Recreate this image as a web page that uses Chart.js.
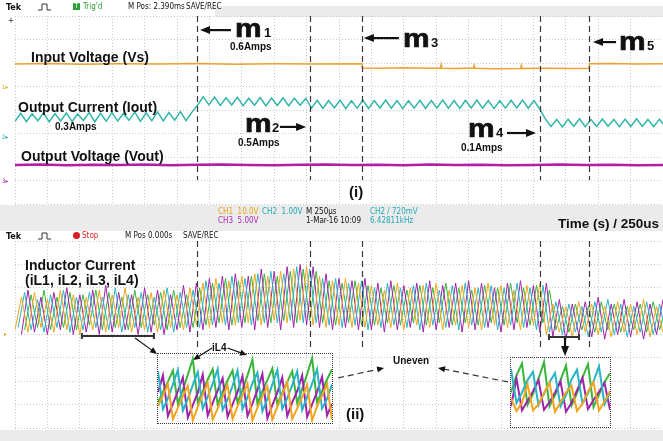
<!DOCTYPE html>
<html>
<head>
<meta charset="utf-8">
<script src="https://cdn.jsdelivr.net/npm/chart.js@4.4.1/dist/chart.umd.min.js"></script>
<style>
body{margin:0;background:#fff}
#page{position:relative;width:663px;height:441px;overflow:hidden;background:#fff;font-family:"Liberation Sans",Arial,sans-serif;color:#111}
.abs{position:absolute;line-height:1;white-space:nowrap}
.b{font-weight:bold}
.scope{font-family:"Liberation Sans Narrow","DejaVu Sans Condensed","Liberation Sans",sans-serif;font-size:8px}
canvas{position:absolute}
.band{position:absolute;background:#ebebeb}
.inset{position:absolute;border:1px dotted #333;box-sizing:border-box}
.m{font-size:26px;font-weight:bold;transform:scaleX(1.15);transform-origin:left top;-webkit-text-stroke:0.7px #111}
.sub{font-size:13px;font-weight:bold}
.amps{font-size:10px;font-weight:bold}
.lbl{font-size:14px;font-weight:bold}
</style>
</head>
<body>
<div id="page">
  <div class="band" style="left:215px;top:6px;width:448px;height:11px"></div>
  <div class="band" style="left:0;top:205px;width:663px;height:26px"></div>
  <div class="band" style="left:0;top:430px;width:663px;height:11px"></div>

  <canvas id="topChart" width="663" height="210" style="left:0;top:0"></canvas>
  <canvas id="botChart" width="663" height="200" style="left:0;top:231px"></canvas>

  <div class="inset" style="left:157px;top:353px;width:176px;height:71px">
    <canvas id="inset1" width="174" height="69" style="left:0;top:0"></canvas>
  </div>
  <div class="inset" style="left:510px;top:357px;width:101px;height:71px">
    <canvas id="inset2" width="99" height="69" style="left:0;top:0"></canvas>
  </div>

  <!-- scope status lines -->
  <div class="abs scope b" style="left:6px;top:3px;font-size:9px">Tek</div>
  <svg class="abs" style="left:38px;top:3px" width="13" height="8"><polyline points="0,7 4,7 4,1 9,1 9,7 13,7" fill="none" stroke="#333" stroke-width="1"/></svg>
  <div class="abs scope" style="left:73px;top:3px;width:7px;height:7px;background:#2e9e3a;color:#fff;font-size:7px;text-align:center">T</div>
  <div class="abs scope" style="left:83px;top:3px;color:#2e9e3a">Trig'd</div>
  <div class="abs scope" style="left:128px;top:3px">M Pos: 2.390ms</div>
  <div class="abs scope" style="left:186px;top:3px">SAVE/REC</div>

  <div class="abs scope" style="left:218px;top:208px;color:#e8a317">CH1&nbsp; 10.0V</div>
  <div class="abs scope" style="left:218px;top:217px;color:#b02ab0">CH3&nbsp; 5.00V</div>
  <div class="abs scope" style="left:262px;top:208px;color:#22aab5">CH2&nbsp; 1.00V</div>
  <div class="abs scope" style="left:306px;top:208px">M 250µs</div>
  <div class="abs scope" style="left:306px;top:217px">1-Mar-16 10:09</div>
  <div class="abs scope" style="left:370px;top:208px;color:#22aab5">CH2 / 720mV</div>
  <div class="abs scope" style="left:370px;top:217px;color:#22aab5">6.42811kHz</div>
  <div class="abs b" style="left:558px;top:216.6px;font-size:13.5px">Time (s) / 250us</div>

  <div class="abs scope b" style="left:6px;top:231.5px;font-size:9px">Tek</div>
  <svg class="abs" style="left:38px;top:232px" width="13" height="8"><polyline points="0,7 4,7 4,1 9,1 9,7 13,7" fill="none" stroke="#333" stroke-width="1"/></svg>
  <div class="abs" style="left:73px;top:232px;width:7px;height:7px;border-radius:50%;background:#d42020"></div>
  <div class="abs scope" style="left:82px;top:232px;color:#d42020">Stop</div>
  <div class="abs scope" style="left:125px;top:232px">M Pos 0.000s</div>
  <div class="abs scope" style="left:183px;top:232px">SAVE/REC</div>

  <!-- channel markers -->
  <div class="abs scope" style="left:8px;top:17px;font-size:8px;color:#333">+</div>
  <div class="abs scope" style="left:2px;top:84px;font-size:6px;color:#e8a317">1▸</div>
  <div class="abs scope" style="left:2px;top:134px;font-size:6px;color:#22aab5">2▸</div>
  <div class="abs scope" style="left:2px;top:178px;font-size:6px;color:#b02ab0">3▸</div>
  <div class="abs scope" style="left:4px;top:331px;font-size:6px;color:#e8a317">▸</div>

  <!-- panel (i) labels -->
  <div class="abs lbl" style="left:31px;top:50px">Input Voltage (Vs)</div>
  <div class="abs lbl" style="left:18px;top:100px">Output Current (Iout)</div>
  <div class="abs amps" style="left:55px;top:121.5px">0.3Amps</div>
  <div class="abs lbl" style="left:21px;top:149px">Output Voltage (Vout)</div>
  <div class="abs b" style="left:349px;top:184px;font-size:15px">(i)</div>

  <div class="abs m" style="left:235px;top:15px">m</div><div class="abs sub" style="left:264px;top:26px">1</div>
  <div class="abs amps" style="left:230px;top:41.5px">0.6Amps</div>
  <div class="abs m" style="left:245px;top:110px">m</div><div class="abs sub" style="left:272px;top:121px">2</div>
  <div class="abs amps" style="left:238px;top:137.5px">0.5Amps</div>
  <div class="abs m" style="left:403px;top:25px">m</div><div class="abs sub" style="left:431px;top:36px">3</div>
  <div class="abs m" style="left:468px;top:115px">m</div><div class="abs sub" style="left:496px;top:126px">4</div>
  <div class="abs amps" style="left:461px;top:142.5px">0.1Amps</div>
  <div class="abs m" style="left:619px;top:28px">m</div><div class="abs sub" style="left:647px;top:39px">5</div>

  <!-- panel (ii) labels -->
  <div class="abs lbl" style="left:25px;top:258px">Inductor Current</div>
  <div class="abs lbl" style="left:25px;top:273px">(iL1, iL2, iL3, iL4)</div>
  <div class="abs amps" style="left:212px;top:342.5px">iL4</div>
  <div class="abs amps" style="left:393px;top:355.5px">Uneven</div>
  <div class="abs b" style="left:346px;top:406px;font-size:15px">(ii)</div>
</div>

<script>
"use strict";

// time base: 10 div x 250us, vertical: 8 divisions
const SPAN_US = 2500;
const markerUs = [702, 1138, 1339, 2025, 2215];

// panel (i): input voltage (Vs)
const vsTimeUs = [0, 120, 260, 400, 560, 700, 850, 1000, 1150, 1338, 1341, 1420, 1500, 1600,
  1642, 1644, 1646, 1700, 1769, 1771, 1773, 1850, 1951, 1953, 1955, 2050, 2150, 2214, 2217, 2300, 2400, 2500];
const vsLevel = [5.96, 5.98, 5.95, 5.97, 5.96, 5.98, 5.95, 5.97, 5.96, 5.97, 5.79, 5.78, 5.80, 5.78,
  5.78, 5.92, 5.78, 5.77, 5.79, 5.89, 5.78, 5.76, 5.77, 5.88, 5.77, 5.78, 5.77, 5.78, 5.97, 5.98, 5.96, 5.97];

// panel (i): output current (Iout), sampled every 22us (trough / peak)
const ioutStepUs = 22;
const ioutLevel = [
  3.52, 3.86, 3.50, 3.84, 3.54, 3.88, 3.49, 3.85, 3.53, 3.87, 3.51, 3.83, 3.55, 3.89, 3.50, 3.86,
  3.52, 3.90, 3.53, 3.85, 3.56, 3.91, 3.52, 3.88, 3.55, 3.92, 3.54, 3.89, 3.57, 3.93, 3.55, 3.90,
  4.20, 4.56, 4.22, 4.55, 4.19, 4.52, 4.21, 4.54, 4.18, 4.50, 4.20, 4.53, 4.17, 4.51, 4.19, 4.52,
  4.18, 4.50, 4.20, 4.49,
  4.08, 4.41, 4.07, 4.40, 4.09, 4.42, 4.06, 4.39, 4.08, 4.41, 4.07, 4.40, 4.09, 4.42, 4.08, 4.40,
  4.06, 4.39, 4.08, 4.41, 4.07, 4.40, 4.09, 4.42, 4.08, 4.40, 4.07, 4.41, 4.09, 4.42, 4.08, 4.40,
  4.06, 4.39, 4.08, 4.41, 4.09, 4.42, 4.08, 4.40, 4.05,
  3.62, 3.30, 3.60, 3.28, 3.61, 3.31, 3.63, 3.29, 3.60, 3.30, 3.62, 3.31, 3.60, 3.29, 3.61, 3.30,
  3.63, 3.31, 3.60, 3.29, 3.61, 3.30];

// panel (i): output voltage (Vout), every 100us
const voutStepUs = 100;
const voutLevel = [1.66, 1.68, 1.65, 1.67, 1.66, 1.68, 1.65, 1.67, 1.68, 1.66, 1.65, 1.67, 1.68,
  1.66, 1.67, 1.65, 1.68, 1.66, 1.67, 1.65, 1.66, 1.68, 1.66, 1.67, 1.65, 1.66];

// panel (ii): inductor currents, half-period samples (25us), phase shifted per leg
const iLStepUs = 25;
const iLPhaseUs = [0, 12, 25, 37];
const iL1 = [
  4.2, 5.6, 4.1, 5.8, 4.3, 5.5, 4.1, 5.9, 4.2, 5.7, 4.0, 5.6, 4.2, 5.9, 4.1, 5.7, 4.3, 6.0, 4.1, 5.6, 4.2, 5.8, 4.1, 5.9, 4.3, 5.7, 4.2, 6.0,
  4.4, 6.2, 4.3, 6.4, 4.5, 6.3, 4.4, 6.5, 4.5, 6.6, 4.4, 6.5, 4.6, 6.7, 4.5, 6.8, 4.6, 6.9,
  4.4, 6.5, 4.3, 6.3, 4.4, 6.4, 4.3, 6.2,
  4.3, 6.1, 4.4, 5.9, 4.3, 6.2, 4.2, 6.0, 4.4, 6.1, 4.3, 6.2, 4.2, 5.9, 4.4, 6.1, 4.3, 6.0, 4.2, 6.2, 4.4, 6.1, 4.3, 5.9, 4.2, 6.1, 4.4, 6.2,
  4.0, 5.3, 4.1, 5.2, 3.9, 5.4, 4.1, 5.3, 4.0, 5.2, 3.9, 5.4, 4.1, 5.3, 4.0, 5.5, 3.9, 5.2, 4.1];
const iL2 = [
  4.3, 5.8, 4.2, 5.5, 4.1, 5.7, 4.3, 5.9, 4.1, 5.6, 4.2, 5.8, 4.3, 5.6, 4.2, 6.0, 4.1, 5.7, 4.3, 5.8, 4.1, 5.6, 4.2, 6.0, 4.1, 5.8, 4.3, 5.9,
  4.3, 6.3, 4.4, 6.2, 4.4, 6.5, 4.5, 6.4, 4.4, 6.6, 4.5, 6.7, 4.5, 6.6, 4.6, 6.9, 4.5, 6.8,
  4.5, 6.4, 4.4, 6.4, 4.3, 6.2, 4.4, 6.3,
  4.2, 6.0, 4.3, 6.2, 4.4, 6.0, 4.3, 6.1, 4.2, 6.2, 4.4, 5.9, 4.3, 6.1, 4.2, 6.2, 4.4, 6.0, 4.3, 6.1, 4.2, 6.0, 4.4, 6.2, 4.3, 6.0, 4.2, 6.1,
  4.1, 5.4, 4.0, 5.3, 4.1, 5.2, 3.9, 5.4, 4.1, 5.5, 4.0, 5.3, 3.9, 5.2, 4.1, 5.4, 4.0, 5.3, 3.9];
const iL3 = [
  4.0, 5.9, 4.1, 5.6, 4.0, 5.8, 4.2, 6.0, 4.0, 5.7, 4.1, 5.9, 4.0, 6.1, 4.1, 5.8, 4.2, 5.7, 4.0, 6.0, 4.1, 5.9, 4.0, 5.7, 4.2, 6.1, 4.1, 6.2,
  4.2, 6.4, 4.3, 6.5, 4.2, 6.6, 4.3, 6.5, 4.2, 6.8, 4.3, 6.7, 4.2, 6.9, 4.3, 7.0, 4.4, 6.9,
  4.3, 6.6, 4.2, 6.4, 4.3, 6.3, 4.2, 6.4,
  4.2, 6.2, 4.1, 6.3, 4.2, 6.1, 4.3, 6.2, 4.1, 6.3, 4.2, 6.1, 4.3, 6.2, 4.1, 6.3, 4.2, 6.2, 4.3, 6.0, 4.1, 6.2, 4.2, 6.3, 4.3, 6.1, 4.1, 6.2,
  3.9, 5.5, 3.8, 5.3, 4.0, 5.4, 3.9, 5.6, 3.8, 5.3, 4.0, 5.5, 3.9, 5.4, 3.8, 5.3, 4.0, 5.5, 3.9];
const iL4 = [
  4.2, 5.7, 4.3, 5.9, 4.2, 5.6, 4.3, 5.8, 4.2, 5.7, 4.4, 5.9, 4.2, 5.8, 4.3, 5.6, 4.2, 5.9, 4.3, 5.7, 4.4, 5.8, 4.2, 5.9, 4.3, 5.7, 4.3, 6.0,
  4.4, 6.2, 4.5, 6.4, 4.4, 6.3, 4.5, 6.5, 4.6, 6.6, 4.5, 6.5, 4.6, 6.7, 4.5, 6.8, 4.6, 6.7,
  4.5, 6.3, 4.4, 6.2, 4.5, 6.3, 4.4, 6.1,
  4.4, 6.0, 4.5, 6.1, 4.4, 5.9, 4.5, 6.1, 4.4, 6.0, 4.5, 6.2, 4.4, 6.0, 4.5, 5.9, 4.4, 6.1, 4.5, 6.0, 4.4, 6.2, 4.5, 6.0, 4.4, 6.1, 4.5, 5.9,
  4.2, 5.2, 4.1, 5.3, 4.2, 5.2, 4.1, 5.4, 4.2, 5.3, 4.1, 5.2, 4.2, 5.3, 4.1, 5.4, 4.2, 5.2, 4.1];

// zoomed inset 1 (before m1) and inset 2 (after m4), scale 0..10
const inset1Step = 5;
const in1Orange = [2.4, 4.0, 5.6, 0.6, 2.2, 3.9, 5.4, 0.4, 2.3, 4.1, 5.8, 0.5, 2.1, 3.8, 5.5, 0.6, 2.4, 4.0,
  5.7, 0.4, 2.2, 3.9, 5.3, 0.5, 2.3, 4.2, 5.9, 0.6, 2.1, 3.8, 5.5, 0.4, 2.4, 4.0, 5.6, 0.5];
const in1Teal = [7.5, 2.0, 3.6, 5.6, 7.7, 1.8, 3.5, 5.5, 7.4, 2.1, 3.8, 5.7, 7.8, 1.9, 3.4, 5.4, 7.6, 2.0,
  3.7, 5.8, 7.3, 1.7, 3.5, 5.6, 7.7, 2.0, 3.6, 5.5, 7.5, 1.9, 3.8, 5.7, 7.8, 2.1, 3.5, 5.6];
const in1Purple = [4.5, 6.9, 1.0, 2.8, 4.6, 6.6, 0.8, 2.6, 4.4, 7.0, 1.1, 2.9, 4.7, 6.5, 0.9, 2.7, 4.5, 6.8,
  1.0, 2.8, 4.8, 7.1, 0.7, 2.6, 4.4, 6.6, 1.0, 3.0, 4.6, 6.9, 0.9, 2.7, 4.5, 6.7, 1.1, 2.8];
const in1Green = [3.0, 4.5, 6.0, 7.6, 2.8, 4.8, 7.0, 9.3, 3.0, 4.6, 6.3, 7.8, 2.7, 4.5, 6.2, 7.6, 2.9, 4.8,
  6.9, 9.2, 2.8, 4.6, 6.2, 7.9, 2.7, 4.4, 6.0, 7.5, 2.9, 4.9, 7.1, 9.4, 3.0, 4.6, 6.3, 7.8];

const inset2Step = 5.5;
const in2Orange = [4.2, 2.3, 3.5, 6.2, 2.4, 3.3, 4.9, 6.4, 2.2, 3.6, 5.0, 6.0, 2.3, 3.4, 5.1, 6.5, 2.4, 3.7, 5.2];
const in2Teal = [8.4, 3.5, 5.0, 6.8, 8.0, 3.2, 4.8, 6.5, 7.8, 3.0, 4.6, 6.9, 8.3, 3.4, 4.9, 6.6, 8.8, 3.3, 5.0];
const in2Purple = [3.0, 7.0, 2.4, 3.8, 5.2, 6.8, 2.5, 3.6, 5.0, 6.6, 2.2, 3.5, 5.3, 7.1, 2.6, 3.9, 5.1, 6.4, 2.5];
const in2Green = [5.0, 7.5, 9.2, 3.2, 4.8, 7.0, 9.4, 3.0, 4.6, 6.8, 8.9, 3.1, 4.9, 7.2, 9.1, 2.9, 4.7, 6.5, 7.8];

// annotations, in panel data units [x0(us), y0(div), x1, y1, kind]
const topArrows = [
  [833, 7.40, 714, 7.40, "bold"],
  [1022, 3.28, 1123, 3.28, "bold"],
  [1481, 7.06, 1346, 7.06, "bold"],
  [1898, 3.02, 2010, 3.02, "bold"],
  [2319, 6.89, 2230, 6.89, "bold"]
];
const botArrows = [
  [760, 3.42, 687, 2.91, "thin"],
  [820, 3.42, 895, 3.12, "thin"],
  [463, 3.85, 548, 3.17, "thin"],
  [2122, 3.85, 2122, 3.08, "bold"],
  [1246, 2.14, 1424, 2.57, "dash"],
  [1902, 1.97, 1632, 2.57, "dash"]
];
const botScaleBars = [[258, 536, 3.94], [2060, 2176, 3.89]];

const COLORS = {
  vs: "#f0a030", iout: "#33b5aa", vout: "#b21ea5",
  orange: "#f2a51c", teal: "#27b4c8", purple: "#a022aa", green: "#38b53a"
};

function fromTimes(times, values) {
  return values.map((v, i) => ({ x: times[i], y: v }));
}
function fromStep(start, step, values) {
  return values.map((v, i) => ({ x: start + i * step, y: v }));
}

function drawArrow(ctx, x0, y0, x1, y1, kind) {
  const ang = Math.atan2(y1 - y0, x1 - x0);
  const hl = kind === "bold" ? 10 : 7;
  const hw = kind === "bold" ? 4 : 3;
  ctx.save();
  ctx.strokeStyle = "#111";
  ctx.fillStyle = "#111";
  ctx.lineWidth = kind === "bold" ? 2.2 : 1.2;
  if (kind === "dash") { ctx.setLineDash([6, 4]); ctx.strokeStyle = "#333"; }
  ctx.beginPath();
  ctx.moveTo(x0, y0);
  ctx.lineTo(x1 - Math.cos(ang) * hl * 0.8, y1 - Math.sin(ang) * hl * 0.8);
  ctx.stroke();
  ctx.setLineDash([]);
  ctx.beginPath();
  ctx.moveTo(x1, y1);
  ctx.lineTo(x1 - hl * Math.cos(ang) + hw * Math.sin(ang), y1 - hl * Math.sin(ang) - hw * Math.cos(ang));
  ctx.lineTo(x1 - hl * Math.cos(ang) - hw * Math.sin(ang), y1 - hl * Math.sin(ang) + hw * Math.cos(ang));
  ctx.closePath();
  ctx.fill();
  ctx.restore();
}

// markers, arrows and scale bars drawn on top of the traces
const annotPlugin = {
  id: "annot",
  afterDraw(chart, args, opts) {
    if (!opts || !opts.arrows) return;
    const ctx = chart.ctx;
    const X = v => chart.scales.x.getPixelForValue(v);
    const Y = v => chart.scales.y.getPixelForValue(v);
    ctx.save();
    ctx.strokeStyle = "#3a3a3a";
    ctx.lineWidth = 1.2;
    ctx.setLineDash([6, 4]);
    markerUs.forEach(t => {
      ctx.beginPath();
      ctx.moveTo(Math.round(X(t)) + 0.5, Y(8));
      ctx.lineTo(Math.round(X(t)) + 0.5, Y(opts.markerEnd));
      ctx.stroke();
    });
    ctx.setLineDash([]);
    (opts.bars || []).forEach(b => {
      const y = Y(b[2]);
      ctx.strokeStyle = "#333";
      ctx.lineWidth = 2;
      ctx.beginPath();
      ctx.moveTo(X(b[0]), y); ctx.lineTo(X(b[1]), y);
      ctx.moveTo(X(b[0]), y - 3); ctx.lineTo(X(b[0]), y + 3);
      ctx.moveTo(X(b[1]), y - 3); ctx.lineTo(X(b[1]), y + 3);
      ctx.stroke();
    });
    opts.arrows.forEach(a => drawArrow(ctx, X(a[0]), Y(a[1]), X(a[2]), Y(a[3]), a[4]));
    ctx.restore();
  }
};
Chart.register(annotPlugin);

function gridAxis(max, step) {
  return {
    type: "linear", min: 0, max: max,
    ticks: { display: false, stepSize: step },
    grid: { color: "#cacaca", lineWidth: 1, drawTicks: false },
    border: { display: false, dash: [1, 2] }
  };
}

function scopeChart(id, datasets, padding, annot) {
  return new Chart(document.getElementById(id), {
    type: "line",
    data: { datasets: datasets },
    options: {
      responsive: false, animation: false, devicePixelRatio: 1,
      layout: { padding: padding },
      plugins: { legend: { display: false }, tooltip: { enabled: false }, annot: annot },
      elements: { point: { radius: 0 }, line: { tension: 0 } },
      scales: { x: gridAxis(SPAN_US, 125), y: gridAxis(8, 1) }
    }
  });
}

function trace(data, color, width) {
  return { data: data, borderColor: color, borderWidth: width, fill: false };
}

scopeChart("topChart", [
  trace(fromTimes(vsTimeUs, vsLevel), COLORS.vs, 1.5),
  trace(fromStep(0, ioutStepUs, ioutLevel), COLORS.iout, 1.5),
  trace(fromStep(0, voutStepUs, voutLevel), COLORS.vout, 2.5)
], { left: 15, top: 16, right: 0, bottom: 6 }, { arrows: topArrows, markerEnd: 1.02 });

scopeChart("botChart", [
  trace(fromStep(iLPhaseUs[0], iLStepUs, iL1), COLORS.orange, 1),
  trace(fromStep(iLPhaseUs[1], iLStepUs, iL2), COLORS.teal, 1),
  trace(fromStep(iLPhaseUs[2], iLStepUs, iL3), COLORS.purple, 1),
  trace(fromStep(iLPhaseUs[3], iLStepUs, iL4), COLORS.green, 1)
], { left: 15, top: 10, right: 0, bottom: 3 }, { arrows: botArrows, bars: botScaleBars, markerEnd: 3.34 });

function insetChart(id, step, xmax, series) {
  const colors = [COLORS.orange, COLORS.teal, COLORS.purple, COLORS.green];
  return new Chart(document.getElementById(id), {
    type: "line",
    data: { datasets: series.map((s, k) => trace(fromStep(0, step, s), colors[k], 2)) },
    options: {
      responsive: false, animation: false, devicePixelRatio: 1,
      plugins: { legend: { display: false }, tooltip: { enabled: false } },
      elements: { point: { radius: 0 }, line: { tension: 0 } },
      scales: {
        x: { type: "linear", display: false, min: 0, max: xmax },
        y: { display: false, min: 0, max: 10 }
      }
    }
  });
}

insetChart("inset1", inset1Step, 175, [in1Orange, in1Teal, in1Purple, in1Green]);
insetChart("inset2", inset2Step, 99, [in2Orange, in2Teal, in2Purple, in2Green]);
</script>
</body>
</html>
